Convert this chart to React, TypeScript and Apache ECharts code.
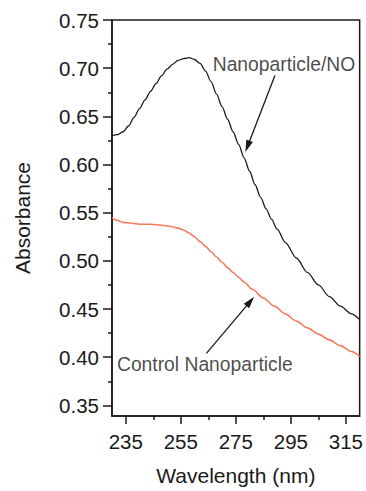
import React, { useEffect, useRef } from "react";
import * as echarts from "echarts";

// Nanoparticle/NO spectrum (wavelength nm, absorbance)
const wavelengthsNO = [230, 232, 234, 236, 238, 240, 242, 244, 246, 248, 250, 252, 254, 256, 258, 260, 262, 264, 266, 268, 270, 272, 274, 276, 278, 280, 282, 284, 286, 288, 290, 293, 297, 301, 305, 309, 313, 317, 320];
const absorbanceNO = [0.630, 0.631, 0.634, 0.640, 0.649, 0.658, 0.667, 0.676, 0.684, 0.692, 0.699, 0.704, 0.708, 0.710, 0.711, 0.709, 0.705, 0.697, 0.686, 0.673, 0.660, 0.647, 0.634, 0.621, 0.607, 0.593, 0.579, 0.566, 0.554, 0.543, 0.533, 0.519, 0.503, 0.488, 0.475, 0.463, 0.453, 0.445, 0.439];

// Control nanoparticle spectrum
const wavelengthsCtrl = [230, 232, 234, 237, 240, 244, 248, 251, 254, 256, 258, 260, 262, 264, 266, 268, 270, 272, 274, 276, 278, 281, 285, 289, 293, 297, 301, 305, 309, 313, 317, 320];
const absorbanceCtrl = [0.545, 0.542, 0.540, 0.539, 0.538, 0.538, 0.537, 0.536, 0.534, 0.532, 0.529, 0.525, 0.520, 0.515, 0.5095, 0.504, 0.4985, 0.493, 0.488, 0.483, 0.478, 0.4705, 0.4615, 0.453, 0.445, 0.4375, 0.4305, 0.424, 0.418, 0.412, 0.406, 0.401];

// Axis ticks
const xMajorTicks = [235, 255, 275, 295, 315];
const xMinorTicks = [245, 265, 285, 305];
const yMajorTicks = [0.35, 0.4, 0.45, 0.5, 0.55, 0.6, 0.65, 0.7, 0.75];
const yMinorTicks = [0.375, 0.425, 0.475, 0.525, 0.575, 0.625, 0.675, 0.725];

// Annotations (data coordinates)
const labelNO = "Nanoparticle/NO";
const labelNOAt = [266.6, 0.7038];
const arrowNO = [[289.2, 0.6924], [279.24, 0.6188]];
const labelCtrl = "Control Nanoparticle";
const labelCtrlAt = [231.8, 0.3923];
const arrowCtrl = [[264.3, 0.404], [280.27, 0.4579]];

const FONT = "'Liberation Sans', Arial, Helvetica, sans-serif";
const INK = "#1a1a1a";
const RED = "#F37B60";

export default function App() {
  const ref = useRef<HTMLDivElement>(null);
  useEffect(() => {
    if (!ref.current) return;
    const chart = echarts.init(ref.current, undefined, { renderer: "svg" });
    const zip = (xs: number[], ys: number[]) => xs.map((x, i) => [x, ys[i]]);
    chart.setOption({
      animation: false,
      backgroundColor: "#ffffff",
      grid: {
        left: 112,
        right: 6,
        top: 20,
        bottom: 71,
        show: true,
        borderColor: INK,
        borderWidth: 1.5,
        backgroundColor: "transparent",
      },
      xAxis: [
        {
          type: "value",
          min: 230,
          max: 320,
          position: "bottom",
          axisLine: { show: true, lineStyle: { color: INK, width: 1.5 } },
          axisTick: { show: true, customValues: xMajorTicks, length: 8, inside: false, lineStyle: { color: INK, width: 1.5 } },
          axisLabel: { customValues: xMajorTicks, fontSize: 20.5, fontFamily: FONT, color: INK, margin: 15 },
          splitLine: { show: false },
          name: "Wavelength (nm)",
          nameLocation: "middle",
          nameGap: 49,
          nameTextStyle: { fontSize: 21, fontFamily: FONT, color: INK },
        },
        {
          type: "value",
          min: 230,
          max: 320,
          position: "bottom",
          axisLine: { show: false },
          axisTick: { show: true, customValues: xMinorTicks, length: 4, inside: false, lineStyle: { color: INK, width: 1.5 } },
          axisLabel: { show: false },
          splitLine: { show: false },
        },
      ],
      yAxis: [
        {
          type: "value",
          min: 0.339,
          max: 0.75,
          position: "left",
          axisLine: { show: true, lineStyle: { color: INK, width: 1.5 } },
          axisTick: { show: true, customValues: yMajorTicks, length: 9, inside: false, lineStyle: { color: INK, width: 1.5 } },
          axisLabel: {
            customValues: yMajorTicks,
            fontSize: 20.5,
            fontFamily: FONT,
            color: INK,
            margin: 13,
            formatter: (v: number) => v.toFixed(2),
          },
          splitLine: { show: false },
          name: "Absorbance",
          nameLocation: "middle",
          nameGap: 79,
          nameTextStyle: { fontSize: 21, fontFamily: FONT, color: INK },
        },
        {
          type: "value",
          min: 0.339,
          max: 0.75,
          position: "left",
          axisLine: { show: false },
          axisTick: { show: true, customValues: yMinorTicks, length: 4, inside: false, lineStyle: { color: INK, width: 1.5 } },
          axisLabel: { show: false },
          splitLine: { show: false },
        },
      ],
      series: [
        {
          name: "Nanoparticle/NO",
          type: "line",
          xAxisIndex: 0,
          yAxisIndex: 0,
          data: zip(wavelengthsNO, absorbanceNO),
          smooth: 0.3,
          smoothMonotone: "x",
          showSymbol: false,
          lineStyle: { color: INK, width: 1.3 },
          markLine: {
            silent: true,
            symbol: ["none", "triangle"],
            symbolSize: [7, 12],
            label: { show: false },
            lineStyle: { color: INK, width: 1.3, type: "solid" },
            data: [
              [{ coord: arrowNO[0] }, { coord: arrowNO[1] }],
              [{ coord: arrowCtrl[0] }, { coord: arrowCtrl[1] }],
            ],
          },
        },
        {
          name: "Control Nanoparticle",
          type: "line",
          xAxisIndex: 0,
          yAxisIndex: 0,
          data: zip(wavelengthsCtrl, absorbanceCtrl),
          smooth: 0.3,
          smoothMonotone: "x",
          showSymbol: false,
          lineStyle: { color: RED, width: 1.6 },
        },
        {
          name: "annotations",
          type: "scatter",
          xAxisIndex: 0,
          yAxisIndex: 0,
          symbolSize: 0,
          silent: true,
          data: [
            { value: labelNOAt, label: { formatter: labelNO } },
            { value: labelCtrlAt, label: { formatter: labelCtrl } },
          ],
          label: {
            show: true,
            position: "right",
            distance: 0,
            fontSize: 19.3,
            fontFamily: FONT,
            color: INK,
          },
        },
      ],
    });
    return () => chart.dispose();
  }, []);
  return (
    <div
      ref={ref}
      style={{ position: "fixed", left: 0, top: 0, width: 366, height: 491, background: "#fff" }}
    />
  );
}
